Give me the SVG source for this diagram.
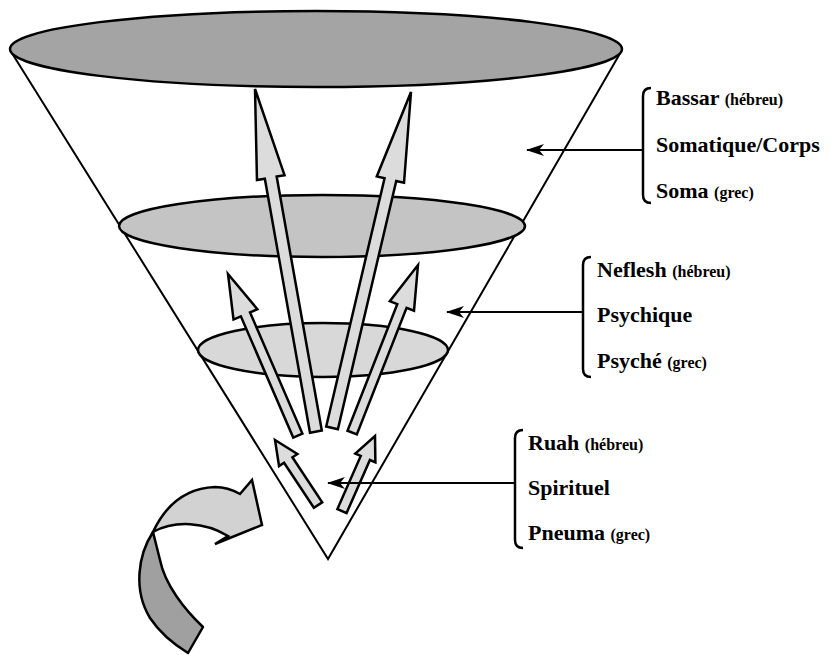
<svg xmlns="http://www.w3.org/2000/svg" width="831" height="655" viewBox="0 0 831 655">
<defs>
<style>
.ln{stroke:#000;stroke-width:2;fill:none}
.el{stroke:#000;stroke-width:2.5}
.ar{fill:#dcdcdc;stroke:#000;stroke-width:2.5;stroke-linejoin:miter}
.t{font-family:"Liberation Serif","Times New Roman",serif;font-weight:bold;font-size:22px;fill:#000}
.s{font-size:16px}
.br{stroke:#000;stroke-width:2.5;fill:none}
.cn{stroke:#000;stroke-width:2;fill:none}
</style>
<marker id="ah" markerWidth="18" markerHeight="12" refX="17" refY="6" orient="auto" markerUnits="userSpaceOnUse">
<path d="M0,0 L18,6 L0,12 L5,6 Z" fill="#000"/>
</marker>
</defs>
<rect width="831" height="655" fill="#fff"/>
<g id="cone">
<path class="ln" d="M10,50 L328,559 L622,50"/>
</g>
<g id="level-soma">
<ellipse class="el" cx="316" cy="49" rx="306" ry="38" fill="#a4a4a4"/>
</g>
<g id="level-psyche">
<ellipse class="el" cx="322" cy="226" rx="203" ry="31" fill="#c4c4c4"/>
</g>
<g id="level-pneuma">
<ellipse class="el" cx="323" cy="350" rx="125" ry="27" fill="#d8d8d8"/>
</g>
<g id="arrows">
<path class="ar" transform="translate(255,89) rotate(-10.08)" d="M0,0 L14,90 L6,90 L6,348 L-6,348 L-6,90 L-14,90 Z"/>
<path class="ar" transform="translate(411,92) rotate(13.23)" d="M0,0 L14,90 L6,90 L6,345 L-6,345 L-6,90 L-14,90 Z"/>
<path class="ar" transform="translate(228,274) rotate(-23.37)" d="M0,0 L13,44 L5,44 L5,176 L-5,176 L-5,44 L-13,44 Z"/>
<path class="ar" transform="translate(418,265) rotate(21.45)" d="M0,0 L13,44 L5,44 L5,180 L-5,180 L-5,44 L-13,44 Z"/>
<path class="ar" transform="translate(275,440) rotate(-33.49)" d="M0,0 L11,24 L5,24 L5,78 L-5,78 L-5,24 L-11,24 Z"/>
<path class="ar" transform="translate(375,436) rotate(23.75)" d="M0,0 L11,24 L5,24 L5,82 L-5,82 L-5,24 L-11,24 Z"/>
</g>
<g id="curved-arrow">
<path d="M153,532 C138,555 133,590 150,618 C160,633 175,645 188,653 L203,627 C185,610 165,585 160,560 C157,548 155,540 153,532 Z" fill="#a0a0a0" stroke="#000" stroke-width="2.5" stroke-linejoin="round"/>
<path d="M153,532 C168,500 190,488 215,487 C225,487 233,490 240,494 L252,480 L262,525 L215,544 L228,536 C205,522 175,520 153,532 Z" fill="#d2d2d2" stroke="#000" stroke-width="2.5" stroke-linejoin="miter"/>
</g>
<g id="connectors">
<path class="cn" d="M643,150 L527,150" marker-end="url(#ah)"/>
<path class="cn" d="M583,312 L447,312" marker-end="url(#ah)"/>
<path class="cn" d="M515,483 L328,483" marker-end="url(#ah)"/>
</g>
<g id="label-soma">
<path class="br" d="M651,88 Q643,88 643,96 L643,195 Q643,203 651,203"/>
<text class="t" x="656" y="105">Bassar <tspan class="s">(hébreu)</tspan></text>
<text class="t" x="656" y="152">Somatique/Corps</text>
<text class="t" x="656" y="198">Soma <tspan class="s">(grec)</tspan></text>
</g>
<g id="label-psyche">
<path class="br" d="M591,257 Q583,257 583,265 L583,369 Q583,377 591,377"/>
<text class="t" x="597" y="277">Neflesh <tspan class="s">(hébreu)</tspan></text>
<text class="t" x="597" y="322">Psychique</text>
<text class="t" x="597" y="368">Psyché <tspan class="s">(grec)</tspan></text>
</g>
<g id="label-pneuma">
<path class="br" d="M523,430 Q515,430 515,438 L515,540 Q515,548 523,548"/>
<text class="t" x="528" y="450">Ruah <tspan class="s">(hébreu)</tspan></text>
<text class="t" x="528" y="495">Spirituel</text>
<text class="t" x="528" y="540">Pneuma <tspan class="s">(grec)</tspan></text>
</g>
</svg>
